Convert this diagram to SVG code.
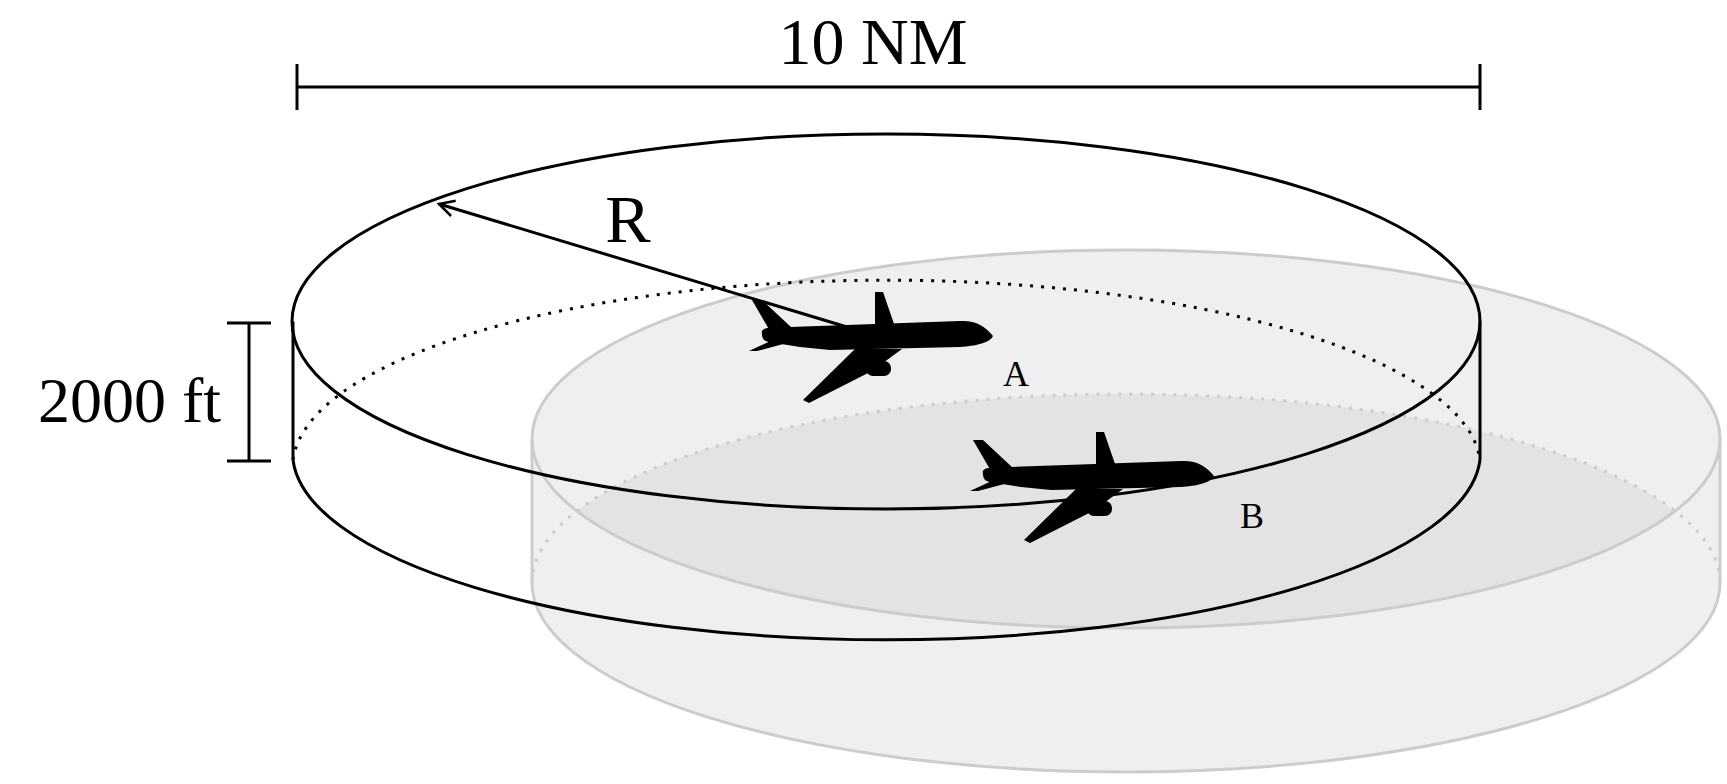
<svg xmlns="http://www.w3.org/2000/svg" width="1727" height="784" viewBox="0 0 1727 784">
<style>
.t{font-family:"Liberation Serif",serif;fill:#000}
.k{fill:none;stroke:#000;stroke-width:3}
.g{fill:none;stroke:#ccc;stroke-width:3}
.dk{fill:none;stroke:#000;stroke-width:3;stroke-dasharray:3 8}
.dg{fill:none;stroke:#ccc;stroke-width:3;stroke-dasharray:3 8}
</style>
<defs>
<clipPath id="topg"><ellipse cx="1126" cy="439" rx="594" ry="189"/></clipPath>
<marker id="ah" viewBox="0 0 20 20" refX="18" refY="10" markerWidth="20" markerHeight="20" markerUnits="userSpaceOnUse" orient="auto"><path d="M3,2 L18,10 L3,18" fill="none" stroke="#000" stroke-width="2.5"/></marker>
<g id="plane" fill="#000">
<path d="M762,334 C760,327 770,327 790,327 L960,321 C975,320 985,326 993,336 C990,343 975,346 960,347 L830,350 L800,347 L775,343 C765,342 762,340 762,334 Z"/>
<path d="M752,300 L762,300 L792,328 L770,331 Z"/>
<path d="M775,339 L749,351 L757,351 L787,343 Z"/>
<path d="M875,292 L883,292 L894,324 L875,326 Z"/>
<path d="M855,349 L803,400 L809,403 L872,371 L902,349 Z"/>
<rect x="866" y="361" width="25" height="15" rx="7"/>
</g>
</defs>
<g id="gray-cylinder">
<path d="M532,439 A594,189 0 0 1 1720,439 L1720,583 A594,189 0 0 1 532,583 Z" fill="#efefef"/>
<ellipse cx="1126" cy="583" rx="594" ry="189" fill="#e3e3e3" clip-path="url(#topg)"/>
<ellipse cx="1126" cy="439" rx="594" ry="189" class="g"/>
<line x1="532" y1="439" x2="532" y2="583" class="g"/>
<line x1="1720" y1="439" x2="1720" y2="583" class="g"/>
<path d="M532,583 A594,189 0 0 0 1720,583" class="g"/>
<path d="M532,583 A594,189 0 0 1 1720,583" class="dg"/>
</g>
<g id="black-cylinder">
<ellipse cx="886" cy="321.5" rx="594" ry="187.5" class="k"/>
<line x1="293" y1="321.5" x2="293" y2="460" class="k"/>
<line x1="1480" y1="321.5" x2="1480" y2="460" class="k"/>
<path d="M293,460 A594,187.5 0 0 0 1480,460" class="k"/>
<path d="M293,460 A594,187.5 0 0 1 1480,460" class="dk"/>
</g>
<g id="connectors">
<line x1="297" y1="87" x2="1480" y2="87" class="k"/>
<line x1="297" y1="64" x2="297" y2="110" class="k"/>
<line x1="1480" y1="64" x2="1480" y2="110" class="k"/>
<line x1="249" y1="323" x2="249" y2="461" class="k"/>
<line x1="227" y1="323" x2="271" y2="323" class="k"/>
<line x1="227" y1="461" x2="271" y2="461" class="k"/>
<line x1="847" y1="327" x2="439" y2="204" class="k" marker-end="url(#ah)"/>
</g>
<g id="planeA"><use href="#plane"/></g>
<g id="planeB"><use href="#plane" transform="translate(221,140)"/></g>
<g id="labels">
<text x="873" y="64" class="t" font-size="66" text-anchor="middle">10 NM</text>
<text x="628" y="242" class="t" font-size="68" text-anchor="middle">R</text>
<text x="221" y="422" class="t" font-size="64" text-anchor="end">2000 ft</text>
<text x="1016" y="386" class="t" font-size="36" text-anchor="middle">A</text>
<text x="1252" y="528" class="t" font-size="36" text-anchor="middle">B</text>
</g>
</svg>
